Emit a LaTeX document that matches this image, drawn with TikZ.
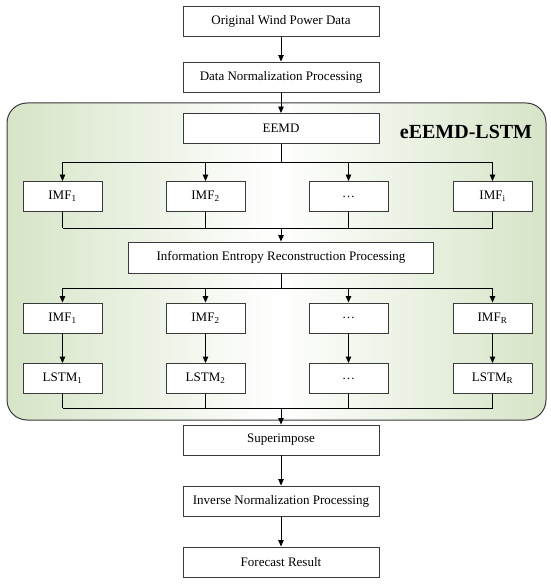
\documentclass[tikz,border=0pt]{standalone}
\usepackage{fontspec}
\setmainfont{Liberation Serif}
\usetikzlibrary{arrows.meta,positioning,calc}
\definecolor{panel}{HTML}{D6E4C7}
\definecolor{edge}{HTML}{3A3A3A}

\begin{document}
\begin{tikzpicture}[x=1pt,y=-1pt,
  box/.style={draw=edge,line width=0.9pt,fill=white,minimum width=196pt,minimum height=30pt,inner sep=0pt,font=\fontsize{13}{15}\selectfont},
  cell/.style={box,minimum width=79pt},
  arr/.style={-{Triangle[length=6.5pt,width=5.5pt]},line width=0.9pt},
  ln/.style={line width=0.9pt}]
  \useasboundingbox (0,0) rectangle (550,585);

  % eEEMD-LSTM panel
  \shadedraw[left color=panel,right color=panel,middle color=white,draw=edge,line width=1pt,rounded corners=20pt] (7,103) rectangle (546,420);
  \node[font=\bfseries\fontsize{20}{22}\selectfont] (tag) at (466,132) {eEEMD-LSTM};

  % main chain
  \node[box] (orig) at (281,21.5) {Original Wind Power Data};
  \node[box] (norm) at (281,77) {Data Normalization Processing};
  \node[box] (eemd) at (281,128.5) {EEMD};
  \node[box,minimum width=305pt,minimum height=31pt] (iep) at (281,257.5) {Information Entropy Reconstruction Processing};
  \node[box] (sup) at (281,440) {Superimpose};
  \node[box] (inv) at (281,501) {Inverse Normalization Processing};
  \node[box] (fc) at (281,562) {Forecast Result};

  % columns
  \foreach \i/\x/\ta/\tb/\tc in {1/62.5/IMF\textsubscript{1}/IMF\textsubscript{1}/LSTM\textsubscript{1},
      2/205.5/IMF\textsubscript{2}/IMF\textsubscript{2}/LSTM\textsubscript{2},
      3/348.5/\dots/\dots/\dots,
      4/492.5/IMF\textsubscript{i}/IMF\textsubscript{R}/LSTM\textsubscript{R}} {
    \node[cell] (a\i) at (\x,196.5) {\ta};
    \node[cell] (b\i) at (\x,318) {\tb};
    \node[cell] (c\i) at (\x,378.5) {\tc};
  }

  \coordinate (br1) at (281,162);
  \coordinate (mg1) at (281,228);
  \coordinate (br2) at (281,288);
  \coordinate (mg2) at (281,408);

  \draw[arr] (orig) -- (norm);
  \draw[arr] (norm) -- (eemd);
  \draw[ln] (eemd) -- (br1);
  \draw[ln] (br1 -| a1) -- (br1 -| a4);
  \draw[ln] (mg1 -| a1) -- (mg1 -| a4);
  \draw[arr] (mg1) -- (iep);
  \draw[ln] (iep) -- (br2);
  \draw[ln] (br2 -| b1) -- (br2 -| b4);
  \draw[ln] (mg2 -| c1) -- (mg2 -| c4);
  \foreach \i in {1,...,4} {
    \draw[arr] (br1 -| a\i) -- (a\i);
    \draw[ln] (a\i) -- (mg1 -| a\i);
    \draw[arr] (br2 -| b\i) -- (b\i);
    \draw[arr] (b\i) -- (c\i);
    \draw[ln] (c\i) -- (mg2 -| c\i);
  }
  \draw[arr] (mg2) -- (sup);
  \draw[arr] (sup) -- (inv);
  \draw[arr] (inv) -- (fc);
\end{tikzpicture}
\end{document}
